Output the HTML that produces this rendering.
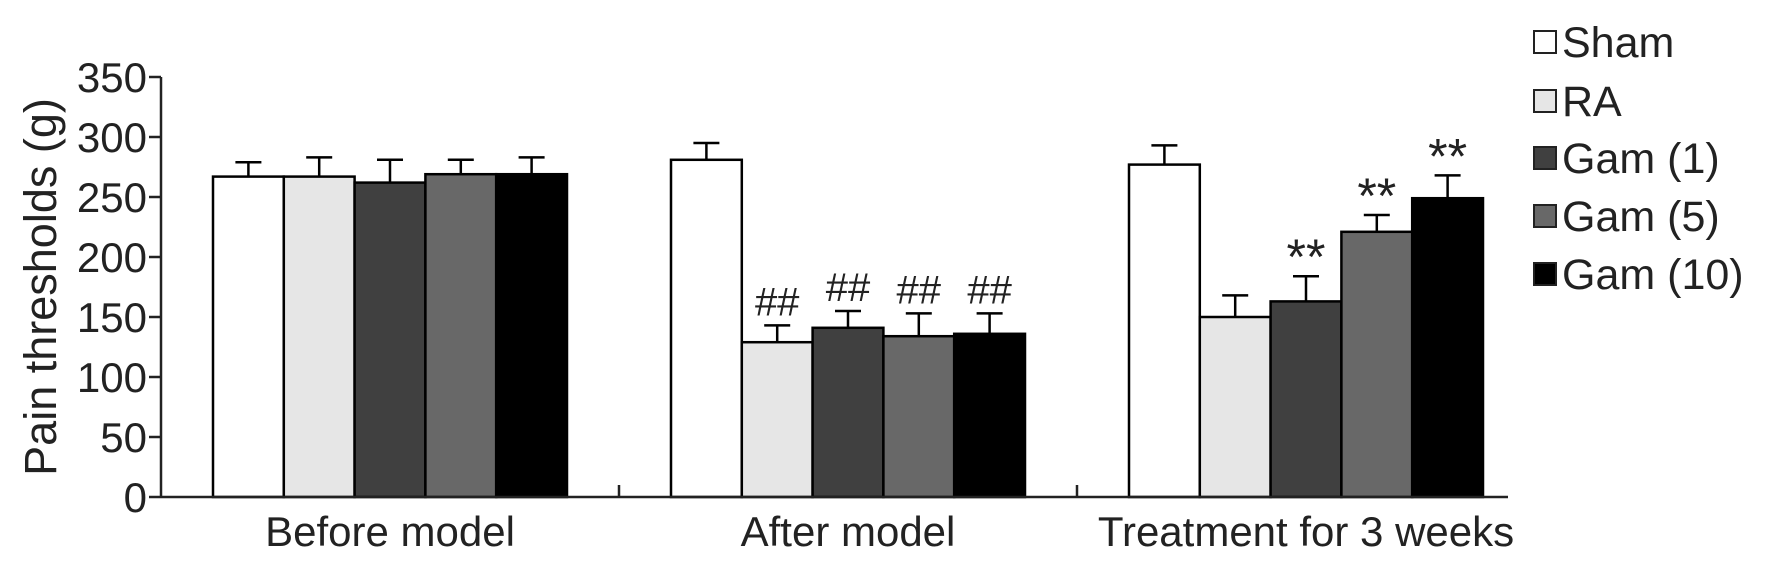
<!DOCTYPE html>
<html><head><meta charset="utf-8"><style>
body{margin:0;background:#fff}
svg{display:block;font-family:"Liberation Sans",Arial,sans-serif}
</style></head><body>
<svg id="c" width="1772" height="561"></svg>
<script>
const groups=["Before model","After model","Treatment for 3 weeks"];
const series=["Sham","RA","Gam (1)","Gam (5)","Gam (10)"];
const colors=["#ffffff","#e6e6e6","#404040","#686868","#000000"];
const valSham=[267,281,277];
const valRA=[267,129,150];
const valG1=[262,141,163];
const valG5=[269,134,221];
const valG10=[269,136,249];
const errSham=[12,14,16];
const errRA=[16,14,18];
const errG1=[19,14,21];
const errG5=[12,19,14];
const errG10=[14,17,19];
const marks=[["","##","##","##","##"],["","","**","**","**"]];
const yTicks=[0,50,100,150,200,250,300,350];
const vals=[valSham,valRA,valG1,valG5,valG10];
const errs=[errSham,errRA,errG1,errG5,errG10];
const NS="http://www.w3.org/2000/svg";
const svg=document.getElementById('c');
function el(t,a,p){const e=document.createElementNS(NS,t);for(const k in a)e.setAttribute(k,a[k]);(p||svg).appendChild(e);return e;}
const x0=161,x1=1508,yBase=497,pxPer=1.2;
const y=v=>yBase-v*pxPer;
const groupStart=[213,671,1129],bw=70.8;
const gx=(g,s)=>groupStart[g]+s*bw;
for(let g=0;g<groups.length;g++){for(let s=0;s<series.length;s++){
 const v=vals[s][g],e=errs[s][g],bx=gx(g,s),cx=bx+bw/2;
 const ln=el('line',{x1:cx,x2:cx,y1:y(v),y2:y(v+e),stroke:'#000','stroke-width':2.5});
 
 
 const cap=el('line',{x1:cx-13,x2:cx+13,y1:y(v+e),y2:y(v+e),stroke:'#000','stroke-width':2.5});
 
 
 const r=el('rect',{x:bx,y:y(v),width:bw,height:v*pxPer,fill:colors[s],stroke:'#000','stroke-width':2.5});
 
 
 let m="",fs=40,off=10;
 if(g===1)m=marks[0][s];
 if(g===2){m=marks[1][s];fs=50;off=2;}
 if(m){const t=el('text',{x:cx,y:y(v+e)-off,'font-size':fs,'text-anchor':'middle',fill:'#222'});t.textContent=m;
 
 }
}}
const ya=el('line',{x1:x0,x2:x0,y1:y(350),y2:yBase+1,stroke:'#222','stroke-width':2.5});


const xa=el('line',{x1:x0,x2:x1,y1:yBase,y2:yBase,stroke:'#222','stroke-width':2.5});


for(const t of yTicks){
 const tk=el('line',{x1:x0-12,x2:x0,y1:y(t),y2:y(t),stroke:'#222','stroke-width':2.5});
 
 
 const tl=el('text',{x:147,y:y(t)+15,'font-size':42,'text-anchor':'end',fill:'#222'});tl.textContent=t;
 
 
}
for(const sx of [619,1077]){
 const tk=el('line',{x1:sx,x2:sx,y1:yBase-12,y2:yBase,stroke:'#222','stroke-width':2.5});
 
 
}
for(let g=0;g<groups.length;g++){
 const t=el('text',{x:groupStart[g]+bw*2.5,y:546,'font-size':42,'text-anchor':'middle',fill:'#222'});t.textContent=groups[g];
 
 
}
const yl=el('text',{x:0,y:0,'font-size':45,'text-anchor':'middle',fill:'#222',transform:'translate(56,287) rotate(-90)'});yl.textContent='Pain thresholds (g)';


const ly=[42,101,158,216,274];
for(let s=0;s<series.length;s++){
 const r=el('rect',{x:1534,y:ly[s]-11,width:22,height:22,fill:colors[s],stroke:'#222','stroke-width':2});
 
 
 const t=el('text',{x:1562,y:ly[s]+15,'font-size':43,fill:'#222'});t.textContent=series[s];
 
 
}
</script>
</body></html>
